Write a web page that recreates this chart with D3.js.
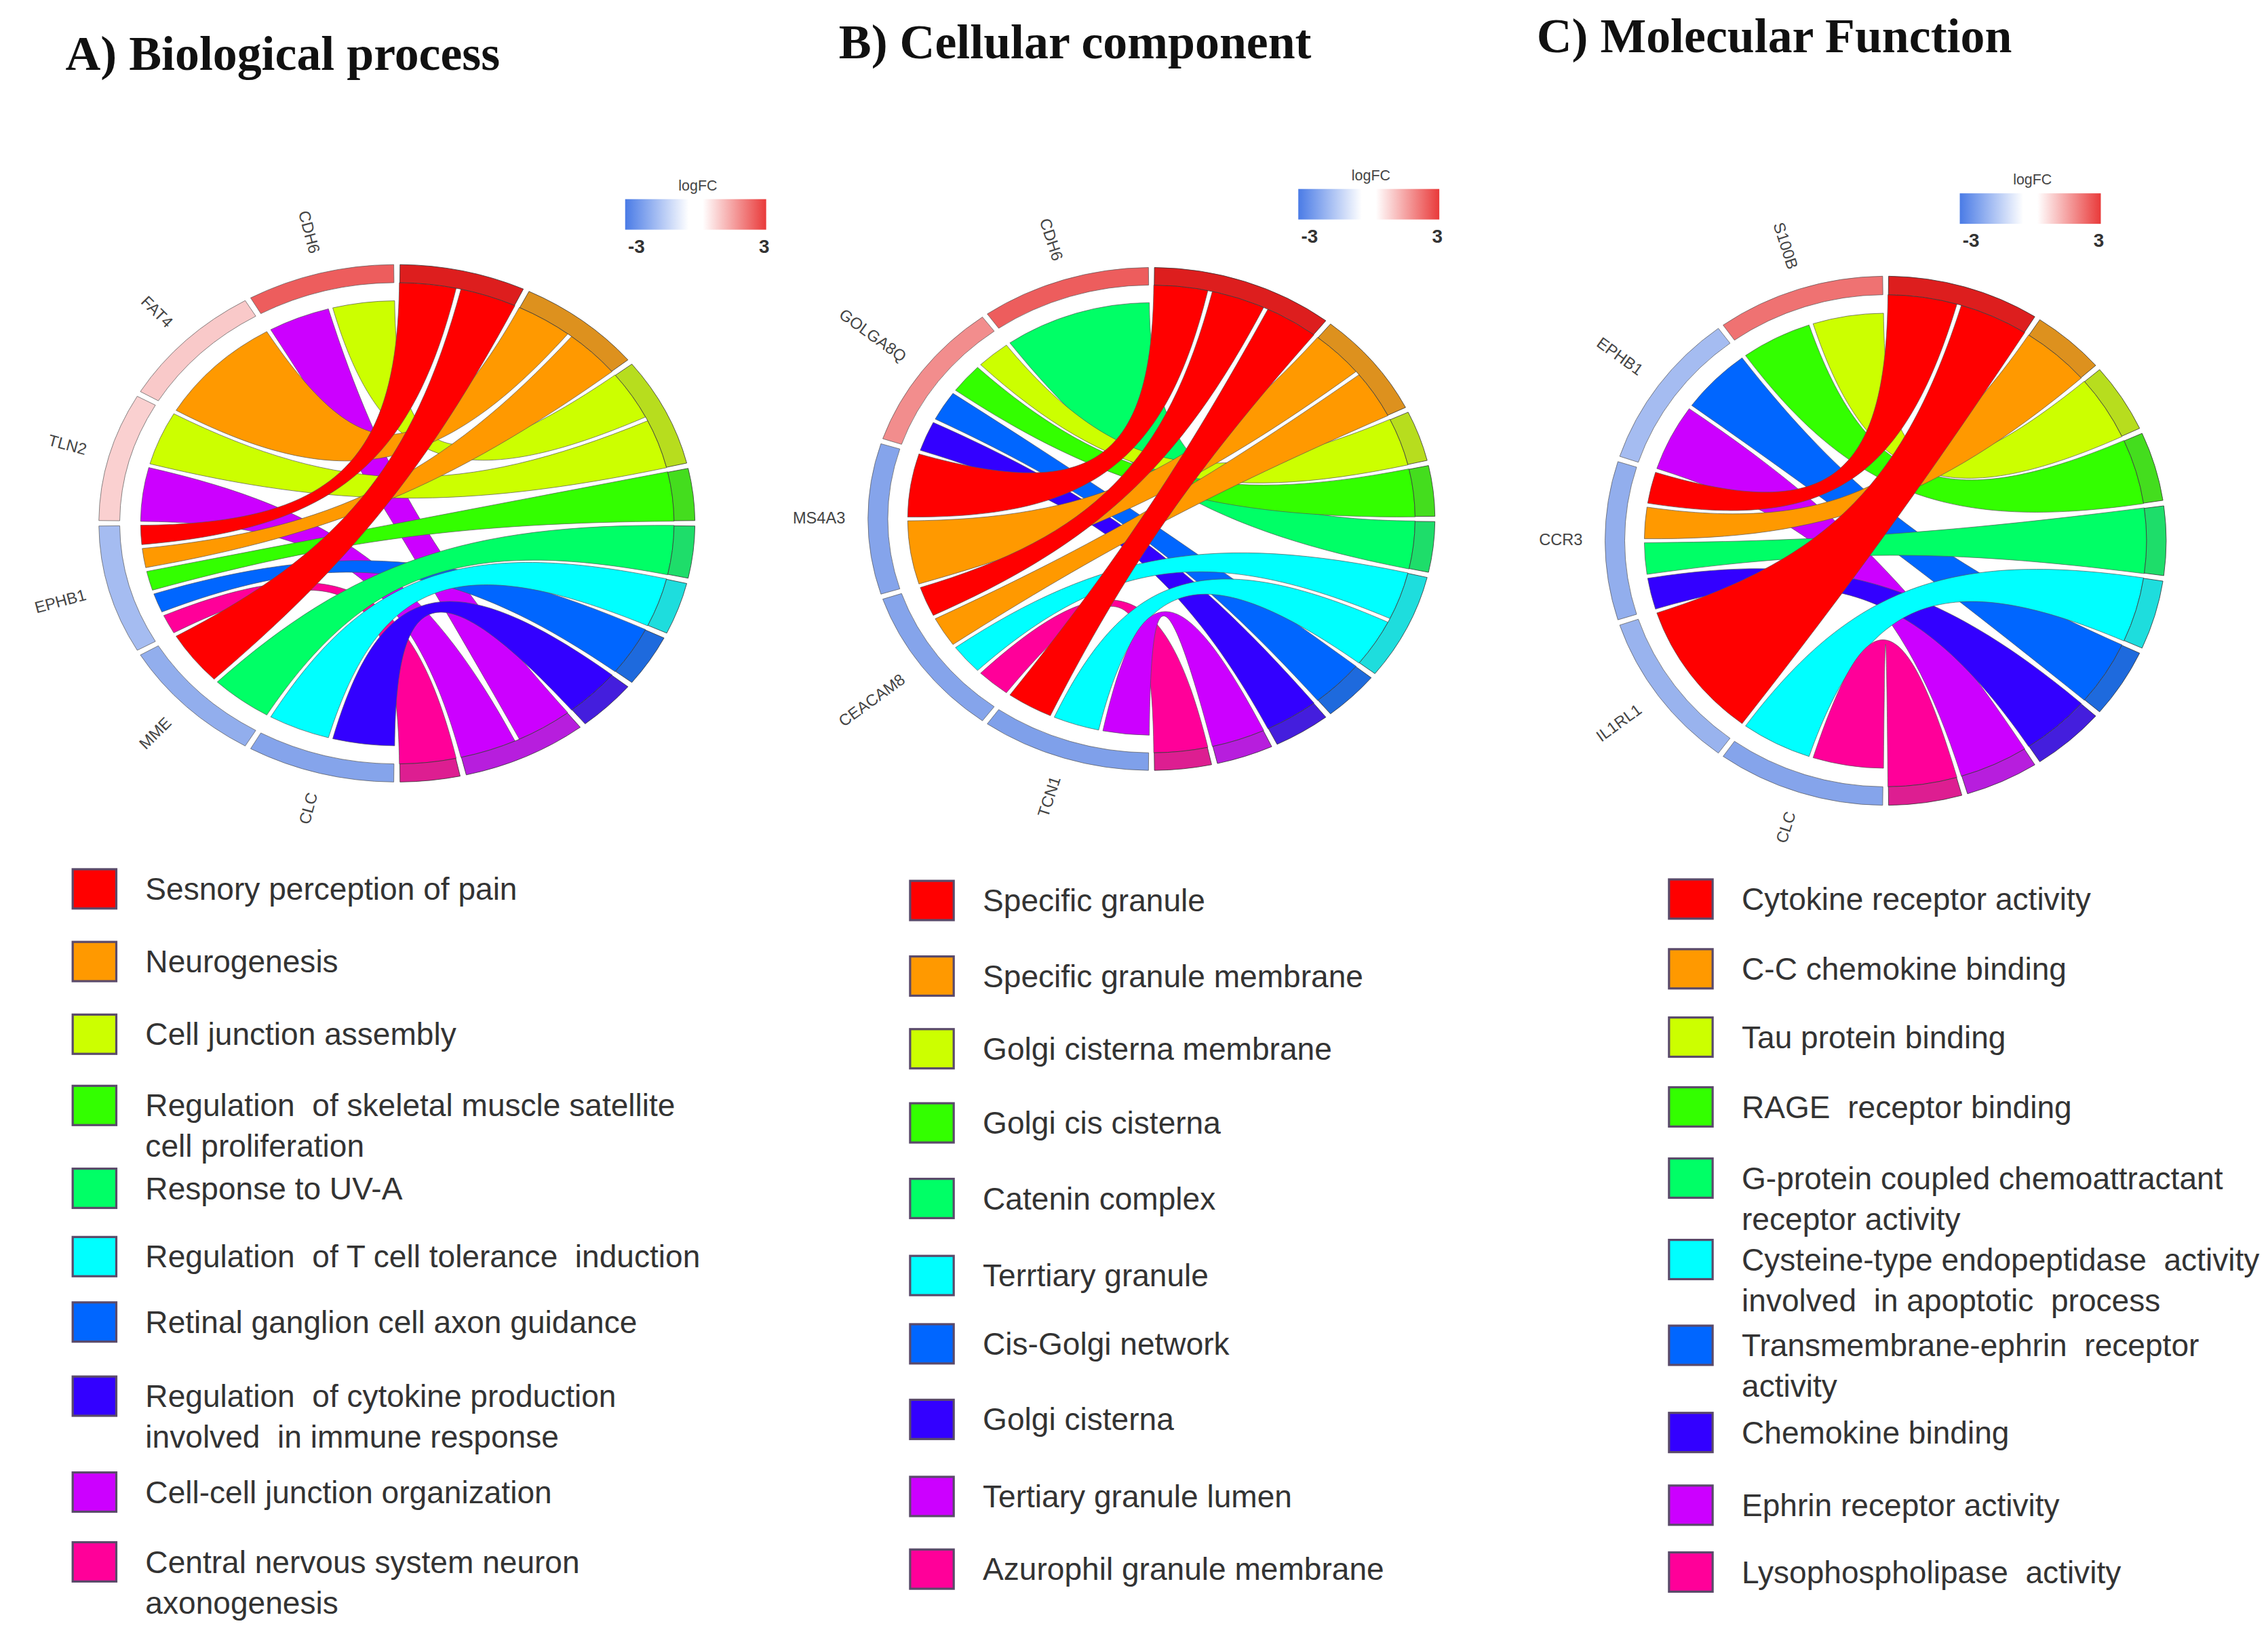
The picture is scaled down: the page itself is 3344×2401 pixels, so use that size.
<!DOCTYPE html>
<html><head><meta charset="utf-8">
<script src="https://cdn.jsdelivr.net/npm/d3@7"></script>
<style>body{margin:0;background:#fff}</style></head>
<body><svg id="c" width="3344" height="2401" viewBox="0 0 1560 1120" preserveAspectRatio="none"></svg>
<script>
const termColors=["#ff0000","#ff9900","#ccff00","#33ff00","#00ff66","#00ffff","#0066ff","#3300ff","#cc00ff","#ff0099"];

// Panel A
const genesA=["CDH6","FAT4","TLN2","EPHB1","MME","CLC"];
const logfcA=[2.4,0.8,0.7,-1.4,-1.7,-1.9];
const linksA=[["CDH6",2],["CDH6",8],["FAT4",1],["TLN2",2],["TLN2",8],["EPHB1",0],["EPHB1",1],["EPHB1",3],["EPHB1",6],["EPHB1",9],["MME",0],["MME",4],["CLC",5],["CLC",7]];
const termsA=["Sesnory perception of pain","Neurogenesis","Cell junction assembly","Regulation  of skeletal muscle satellite\ncell proliferation","Response to UV-A","Regulation  of T cell tolerance  induction","Retinal ganglion cell axon guidance","Regulation  of cytokine production\ninvolved  in immune response","Cell-cell junction organization","Central nervous system neuron\naxonogenesis"];
// Panel B
const genesB=["CDH6","GOLGA8Q","MS4A3","CEACAM8","TCN1"];
const logfcB=[2.4,1.7,-1.9,-1.9,-2];
const linksB=[["CDH6",4],["GOLGA8Q",2],["GOLGA8Q",3],["GOLGA8Q",6],["GOLGA8Q",7],["MS4A3",0],["MS4A3",1],["CEACAM8",0],["CEACAM8",1],["CEACAM8",5],["CEACAM8",9],["TCN1",0],["TCN1",5],["TCN1",8]];
const termsB=["Specific granule","Specific granule membrane","Golgi cisterna membrane","Golgi cis cisterna","Catenin complex","Terrtiary granule","Cis-Golgi network","Golgi cisterna","Tertiary granule lumen","Azurophil granule membrane"];
// Panel C
const genesC=["S100B","EPHB1","CCR3","IL1RL1","CLC"];
const logfcC=[2.1,-1.4,-1.7,-1.6,-1.9];
const linksC=[["S100B",2],["S100B",3],["EPHB1",6],["EPHB1",8],["CCR3",0],["CCR3",1],["CCR3",4],["CCR3",7],["IL1RL1",0],["CLC",5],["CLC",9]];
const termsC=["Cytokine receptor activity","C-C chemokine binding","Tau protein binding","RAGE  receptor binding","G-protein coupled chemoattractant\nreceptor activity","Cysteine-type endopeptidase  activity\ninvolved  in apoptotic  process","Transmembrane-ephrin  receptor\nactivity","Chemokine binding","Ephrin receptor activity","Lysophospholipase  activity"];
const legendTicks=["-3","3"];

const svg=d3.select("#c");
const fcColor=d3.scaleLinear().domain([-3,0,3]).range(["#3f70e0","#ffffff","#e83535"]);
const defs=svg.append("defs");
const gr=defs.append("linearGradient").attr("id","lg");
[[0,"#4a7be6"],[0.45,"#ffffff"],[0.55,"#ffffff"],[1,"#e93a3a"]].forEach(s=>gr.append("stop").attr("offset",s[0]).attr("stop-color",s[1]));

function band(s0,s1,sr,t0,t1,tr){
  const h=Math.PI/2, p=d3.path(), k=0.25;
  const P=(r,a)=>[r*Math.cos(a-h),r*Math.sin(a-h)];
  const c=(a,b)=>[a[0]*k,a[1]*k,b[0]*k,b[1]*k];
  const A=P(sr,s0),B=P(sr,s1),C=P(tr,t0),D=P(tr,t1);
  p.moveTo(A[0],A[1]);
  p.arc(0,0,sr,s0-h,s1-h,false);
  let q=c(B,C); p.bezierCurveTo(q[0],q[1],q[2],q[3],C[0],C[1]);
  p.arc(0,0,tr,t0-h,t1-h,false);
  q=c(D,A); p.bezierCurveTo(q[0],q[1],q[2],q[3],A[0],A[1]);
  p.closePath();
  return p.toString();
}

function panel(cfg){
  const {genes,logfc,links,terms,cx,cy,rx,ry}=cfg;
  const R=200, rad=Math.PI/180, pad=0.5;
  const g=svg.append("g").attr("transform",`translate(${cx},${cy}) scale(${rx/R},${ry/R})`);
  const nG=genes.length, span=180/nG, L=links.length, unit=180/L;
  const lk=links.map(([gn,t])=>({gi:genes.indexOf(gn),t}));
  genes.forEach((gn,k)=>{
    const a1=360-span*(k+1), a2=360-span*k;
    const my=lk.filter(d=>d.gi===k).sort((a,b)=>b.t-a.t);
    const w=(a2-a1)/my.length;
    my.forEach((d,i)=>{d.gs=a1+i*w;d.ge=a1+(i+1)*w;});
  });
  let pos=0; const termSpan=[];
  for(let t=0;t<terms.length;t++){
    const my=lk.filter(d=>d.t===t).sort((a,b)=>a.gi-b.gi);
    const s=pos;
    my.forEach(d=>{d.ts=pos;d.te=pos+unit;pos+=unit;});
    termSpan.push([s,pos]);
  }
  g.selectAll("path.rib").data(lk).join("path").attr("class","rib")
    .attr("d",d=>band((d.gs+pad)*rad,(d.ge-pad)*rad,172,(d.ts+pad)*rad,(d.te-pad)*rad,186))
    .attr("fill",d=>termColors[d.t]).attr("stroke","#555").attr("stroke-width",0.7)
    .attr("vector-effect","non-scaling-stroke");
  const arc=d3.arc().innerRadius(186).outerRadius(200);
  genes.forEach((gn,k)=>{
    const a1=360-span*(k+1), a2=360-span*k;
    g.append("path").attr("d",arc({startAngle:(a1+0.6)*rad,endAngle:(a2-0.6)*rad}))
      .attr("fill",fcColor(logfc[k])).attr("stroke","#555").attr("stroke-width",0.7).attr("vector-effect","non-scaling-stroke");
    const mid=(a1+a2)/2, th=(mid-90)*rad;
    const lr=1.08;
    const x=cx+Math.cos(th)*rx*lr, y=cy+Math.sin(th)*ry*lr;
    svg.append("text").attr("x",x).attr("y",y).attr("text-anchor","end").attr("dominant-baseline","middle")
      .attr("transform",`rotate(${mid-90+180},${x},${y})`).attr("font-family","Liberation Sans, Arial").attr("font-size",11).attr("fill","#444").text(gn);
  });
  termSpan.forEach((s,t)=>{
    if(s[1]<=s[0])return;
    g.append("path").attr("d",arc({startAngle:(s[0]+0.6)*rad,endAngle:(s[1]-0.6)*rad}))
      .attr("fill",d3.interpolateRgb(termColors[t],"#777")(0.25)).attr("stroke","#333").attr("stroke-width",0.8).attr("vector-effect","non-scaling-stroke");
  });
  svg.append("text").attr("x",cfg.tx).attr("y",cfg.ty).attr("font-family","Liberation Serif, Times New Roman").attr("font-weight","bold").attr("font-size",33.5).attr("fill","#111").text(cfg.title);
  const lx=cfg.lx, ly=cfg.ly;
  svg.append("rect").attr("x",lx).attr("y",ly).attr("width",97).attr("height",21).attr("fill","url(#lg)");
  svg.append("text").attr("x",lx+50).attr("y",ly-6).attr("text-anchor","middle").attr("font-family","Liberation Sans").attr("font-size",10).attr("fill","#444").text("logFC");
  svg.append("text").attr("x",lx+2).attr("y",ly+37).attr("font-family","Liberation Sans").attr("font-weight","bold").attr("font-size",13).attr("fill","#333").text(legendTicks[0]);
  svg.append("text").attr("x",lx+92).attr("y",ly+37).attr("font-family","Liberation Sans").attr("font-weight","bold").attr("font-size",13).attr("fill","#333").text(legendTicks[1]);
  terms.forEach((tn,t)=>{
    const y=cfg.rows[t];
    svg.append("rect").attr("x",cfg.sx).attr("y",y-14).attr("width",30).attr("height",27)
      .attr("fill",termColors[t]).attr("stroke","#5a4a6a").attr("stroke-width",1.5);
    const tx=svg.append("text").attr("x",cfg.sx+50).attr("y",y+7).attr("font-family","Liberation Sans, Arial").attr("font-size",21.5).attr("fill","#333");
    tn.split("\n").forEach((ln,i)=>tx.append("tspan").attr("x",cfg.sx+50).attr("dy",i?28:0).attr("xml:space","preserve").text(ln));
  });
}
panel({genes:genesA,logfc:logfcA,links:linksA,terms:termsA,cx:273,cy:360,rx:205,ry:178,title:"A) Biological process",tx:45,ty:48,lx:430,ly:137,sx:50,
  rows:[612,662,712,761,818,865,910,961,1027,1075]});
panel({genes:genesB,logfc:logfcB,links:linksB,terms:termsB,cx:792,cy:357,rx:195,ry:173,title:"B) Cellular component",tx:577,ty:40,lx:893,ly:130,sx:626,
  rows:[620,672,722,773,825,878,925,977,1030,1080]});
panel({genes:genesC,logfc:logfcC,links:linksC,terms:termsC,cx:1297,cy:372,rx:193,ry:182,title:"C) Molecular Function",tx:1057,ty:36,lx:1348,ly:133,sx:1148,
  rows:[619,667,714,762,811,867,926,986,1036,1082]});
</script></body></html>
